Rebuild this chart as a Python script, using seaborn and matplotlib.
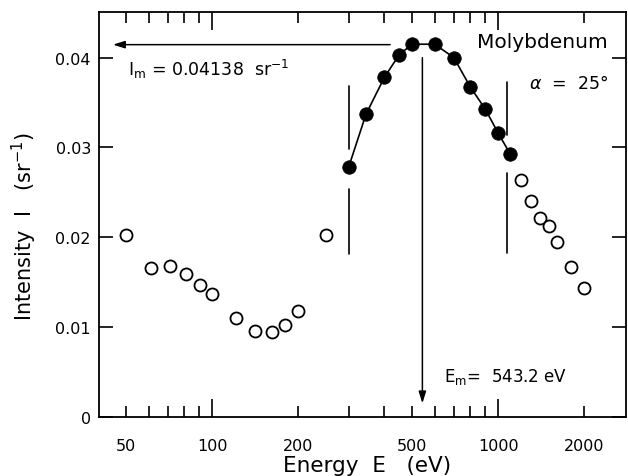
import numpy as np
import pandas as pd
import matplotlib
matplotlib.use("Agg")
import matplotlib.pyplot as plt
import seaborn as sns
from matplotlib.ticker import FixedLocator, NullFormatter, FixedFormatter

# ---- data ----
open_lo_E = [50, 61, 71, 81, 91, 100, 121, 141, 162, 180, 200, 250]
open_lo_I = [0.0202, 0.0166, 0.0168, 0.0159, 0.0147, 0.0137, 0.0110, 0.0096, 0.0095, 0.0102, 0.0118, 0.0203]
fill_E = [300, 345, 400, 450, 500, 600, 700, 800, 900, 1000, 1100]
fill_I = [0.0278, 0.0337, 0.0378, 0.0403, 0.0415, 0.0415, 0.0400, 0.0367, 0.0343, 0.0316, 0.0293]
open_hi_E = [1200, 1300, 1400, 1500, 1600, 1800, 2000]
open_hi_I = [0.0264, 0.0240, 0.0222, 0.0212, 0.0195, 0.0167, 0.0144]

E_m = 543.2
I_m = 0.04138
window_E = [300, 1075]

xtick_major = [100, 1000]
xtick_minor = [50, 60, 70, 80, 90, 200, 300, 400, 500, 600, 700, 800, 900, 2000]
xtick_labels_pos = [50, 100, 200, 500, 1000, 2000]
ytick_vals = [0, 0.01, 0.02, 0.03, 0.04]
ytick_labels = ["0", "0.01", "0.02", "0.03", "0.04"]

df_open = pd.DataFrame({"E": open_lo_E + open_hi_E, "I": open_lo_I + open_hi_I})
df_fill = pd.DataFrame({"E": fill_E, "I": fill_I})

sns.set_style("ticks")
plt.rcParams["font.family"] = ["DejaVu Sans"]
plt.rcParams["mathtext.fontset"] = "dejavusans"
for k in ["text.color", "axes.labelcolor", "xtick.color", "ytick.color", "axes.edgecolor"]:
    plt.rcParams[k] = "black"

fig = plt.figure(figsize=(6.28, 4.77), dpi=100)
ax = fig.add_axes([0.158, 0.124, 0.839, 0.849])

ax.set_xscale("log")

sns.lineplot(data=df_fill, x="E", y="I", ax=ax, color="black", lw=1.2, zorder=2)
sns.scatterplot(data=df_fill, x="E", y="I", ax=ax, s=95, color="black",
                edgecolor="black", linewidth=0.5, zorder=3)
sns.scatterplot(data=df_open, x="E", y="I", ax=ax, s=75, facecolor="white",
                edgecolor="black", linewidth=1.3, zorder=3)

# window lines
for e, segs in zip(window_E, [[(0.0181, 0.0254), (0.0298, 0.0368)],
                               [(0.0183, 0.0272), (0.0314, 0.0373)]]):
    for y0, y1 in segs:
        ax.plot([e, e], [y0, y1], color="black", lw=1.2)

# arrows
ax.annotate("", xy=(45, 0.04145), xytext=(419, 0.04145),
            arrowprops=dict(arrowstyle="-|>,head_length=0.7,head_width=0.22",
                            color="black", lw=1.1, shrinkA=0, shrinkB=0))
ax.annotate("", xy=(E_m, 0.0015), xytext=(E_m, 0.0400),
            arrowprops=dict(arrowstyle="-|>,head_length=0.7,head_width=0.22",
                            color="black", lw=1.1, shrinkA=0, shrinkB=0))

ax.text(51, 0.0388, r"$\mathrm{I_m}$ = 0.04138  sr$^{-1}$", fontsize=12.5, va="center", ha="left")
ax.text(845, 0.0418, "Molybdenum", fontsize=14.5, va="center", ha="left")
ax.text(1280, 0.0372, r"$\alpha$  =  25°", fontsize=12.5, va="center", ha="left")
ax.text(647, 0.0045, r"$\mathrm{E_m}$=  543.2 eV", fontsize=12, va="center", ha="left")

ax.set_xlim(40.3, 2800)
ax.set_ylim(0, 0.0451)

ax.xaxis.set_major_locator(FixedLocator(xtick_major))
ax.xaxis.set_minor_locator(FixedLocator(xtick_minor))
ax.xaxis.set_major_formatter(NullFormatter())
ax.xaxis.set_minor_formatter(NullFormatter())
for e in xtick_labels_pos:
    ax.text(e, -0.0023, str(e), fontsize=11.5, ha="center", va="top")

ax.yaxis.set_major_locator(FixedLocator(ytick_vals))
ax.yaxis.set_major_formatter(FixedFormatter(ytick_labels))

ax.tick_params(axis="x", which="major", direction="in", length=13, width=1.2, top=True, bottom=True)
ax.tick_params(axis="x", which="minor", direction="in", length=8, width=1.2, top=True, bottom=True)
ax.tick_params(axis="y", which="major", direction="in", length=10, width=1.2, left=True, right=True,
               labelsize=11.5, pad=6)
ax.tick_params(axis="y", which="minor", left=False, right=False)

for s in ax.spines.values():
    s.set_linewidth(1.3)
    s.set_visible(True)

ax.set_xlabel("Energy  E   (eV)", fontsize=15.5)
ax.set_ylabel(r"Intensity  I   (sr$^{-1}$)", fontsize=15)
ax.xaxis.set_label_coords(0.508, -0.093)
ax.yaxis.set_label_coords(-0.114, 0.472)

fig.savefig("out.png", dpi=100)
